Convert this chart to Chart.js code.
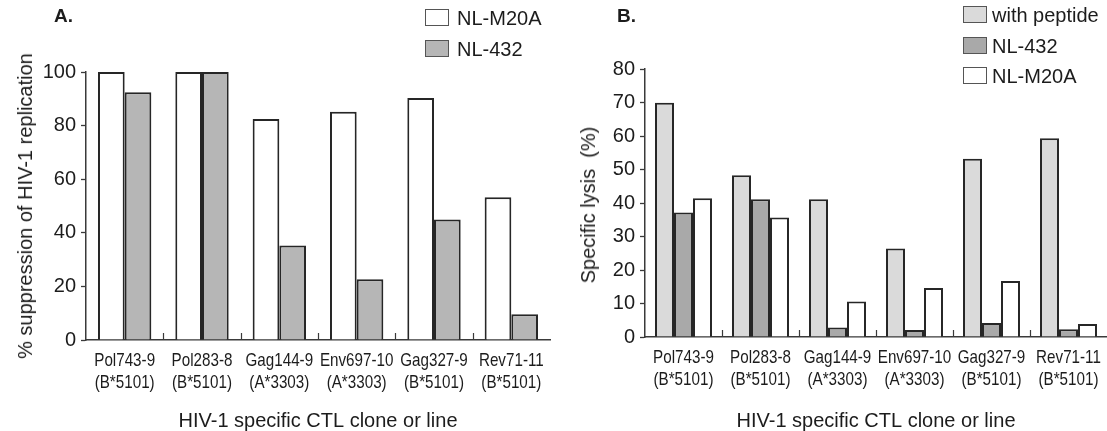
<!DOCTYPE html>
<html>
<head>
<meta charset="utf-8">
<script src="https://cdn.jsdelivr.net/npm/chart.js@4.4.1/dist/chart.umd.min.js"></script>
<style>
html,body{margin:0;padding:0;background:#fff;}
#wrap{position:relative;width:1107px;height:431px;overflow:hidden;font-family:'Liberation Sans',Arial,sans-serif;color:#1c1c1c;}
canvas{position:absolute;top:0;}
.tag{position:absolute;top:6px;font-weight:bold;font-size:19px;line-height:20px;}
.ytitle{position:absolute;font-size:20px;line-height:20px;white-space:nowrap;transform:translate(-50%,-50%) rotate(-90deg);}
.legend{position:absolute;font-size:20px;}
.legend .row{position:absolute;left:0;height:18px;line-height:18px;white-space:nowrap;}
.legend .box{position:absolute;left:0;top:0;width:22px;height:15px;border:1.5px solid #555;}
.legend .txt{position:absolute;top:0;}
</style>
</head>
<body>
<div id="wrap">
  <canvas id="chartA" width="555" height="431" style="left:0;width:555px;height:431px"></canvas>
  <canvas id="chartB" width="552" height="431" style="left:555px;width:552px;height:431px"></canvas>
  <div class="tag" style="left:54px">A.</div>
  <div class="tag" style="left:617px">B.</div>
  <div class="ytitle" style="left:25px;top:206px">% suppression of HIV-1 replication</div>
  <div class="ytitle" style="left:588px;top:205px">Specific lysis&nbsp;&nbsp;(%)</div>
  <div class="legend" id="legA" style="left:425px;top:9px"></div>
  <div class="legend" id="legB" style="left:963px;top:6px"></div>
</div>
<script>
// categories (two-line labels)
const categories = [
  ['Pol743-9', '(B*5101)'],
  ['Pol283-8', '(B*5101)'],
  ['Gag144-9', '(A*3303)'],
  ['Env697-10', '(A*3303)'],
  ['Gag327-9', '(B*5101)'],
  ['Rev71-11', '(B*5101)']
];

// panel A: % suppression of HIV-1 replication
const suppM20A = [100, 100, 82.5, 85.2, 90.3, 53.3];
const supp432 = [92.4, 100, 35.3, 22.7, 45.0, 9.6];

// panel B: specific lysis (%)
const lysisPeptide = [69.9, 48.3, 41.1, 26.4, 53.2, 59.3];
const lysis432 = [37.2, 41.1, 2.8, 2.1, 4.2, 2.3];
const lysisM20A = [41.4, 35.7, 10.6, 14.6, 16.7, 3.9];

const ticksA = [0, 20, 40, 60, 80, 100];
const ticksB = [0, 10, 20, 30, 40, 50, 60, 70, 80];

const ink = '#262626';
const axisCol = '#3a3a3a';
const textCol = '#1c1c1c';

// small inward ticks between the category groups
const boundaryTicks = {
	id: 'boundaryTicks',
	afterDatasetsDraw(chart){
		var x = chart.scales.x, area = chart.chartArea, ctx = chart.ctx, i, px;
		ctx.save();
		ctx.strokeStyle = axisCol;
		ctx.lineWidth = 1.2;
		for(i = 1; i < x.ticks.length; i++){
			px = Math.round((x.getPixelForTick(i-1) + x.getPixelForTick(i))/2) + 0.5;
			ctx.beginPath();
			ctx.moveTo(px, area.bottom);
			ctx.lineTo(px, area.bottom - 7);
			ctx.stroke();
		}
		ctx.restore();
	}
};

// category labels in a condensed face (squeezed horizontally)
const narrowLabels = {
	id: 'narrowLabels',
	afterDraw(chart){
		var x = chart.scales.x, area = chart.chartArea, ctx = chart.ctx;
		ctx.save();
		ctx.fillStyle = textCol;
		ctx.font = "19px 'Liberation Sans', Arial, sans-serif";
		ctx.textAlign = 'center';
		ctx.textBaseline = 'middle';
		chart.data.labels.forEach(function(lines, i){
			var px = x.getPixelForTick(i);
			lines.forEach(function(t, j){
				ctx.save();
				ctx.translate(px, area.bottom + 21 + j*22);
				ctx.scale(0.8, 1);
				ctx.fillText(t, 0, 0);
				ctx.restore();
			});
		});
		ctx.restore();
	}
};

function makeChart(id, datasets, yTicks, opt){
	return new Chart(document.getElementById(id), {
		type: 'bar',
		data: {
			labels: categories,
			datasets: datasets.map(function(d){
				return {
					label: d.label,
					data: d.data,
					backgroundColor: d.fill,
					borderColor: ink,
					borderWidth: 2,
					categoryPercentage: opt.catPct,
					barPercentage: 1
				};
			})
		},
		options: {
			responsive: false,
			animation: false,
			layout: {padding: {left: 0, top: opt.top, right: opt.right, bottom: 0}},
			plugins: {legend: {display: false}, tooltip: {enabled: false}},
			scales: {
				x: {
					grid: {display: false},
					border: {display: true, color: axisCol, width: 1.5},
					ticks: {display: false},
					title: {
						display: true,
						text: 'HIV-1 specific CTL clone or line',
						color: textCol,
						padding: {top: 0, bottom: 0},
						font: {family: "'Liberation Sans',Arial,sans-serif", size: 20, lineHeight: 1}
					},
					afterFit: function(s){ s.height = opt.xh; }
				},
				y: {
					min: 0,
					max: yTicks[yTicks.length-1],
					afterBuildTicks: function(s){ s.ticks = yTicks.map(function(v){ return {value: v}; }); },
					grid: {drawOnChartArea: false, drawTicks: true, tickLength: 5, tickColor: axisCol, tickWidth: 1.3},
					border: {display: true, color: axisCol, width: 1.5},
					ticks: {
						color: textCol,
						padding: 5,
						font: {family: "'Liberation Sans',Arial,sans-serif", size: 20}
					},
					afterFit: function(s){ s.width = opt.yw; }
				}
			}
		},
		plugins: [boundaryTicks, narrowLabels]
	});
}

function makeLegend(id, items, textLeft){
	var el = document.getElementById(id);
	items.forEach(function(it, i){
		var row = document.createElement('div');
		row.className = 'row';
		row.style.top = (i*30.5) + 'px';
		row.innerHTML = '<span class="box" style="background:' + it.fill + '"></span><span class="txt"></span>';
		var txt = row.querySelector('.txt');
		txt.textContent = it.label;
		txt.style.left = textLeft + 'px';
		el.appendChild(row);
	});
}

const setA = [
	{label: 'NL-M20A', data: suppM20A, fill: '#ffffff'},
	{label: 'NL-432', data: supp432, fill: '#b6b6b6'}
];
const setB = [
	{label: 'with peptide', data: lysisPeptide, fill: '#dadada'},
	{label: 'NL-432', data: lysis432, fill: '#a9a9a9'},
	{label: 'NL-M20A', data: lysisM20A, fill: '#ffffff'}
];

makeChart('chartA', setA, ticksA, {top: 72, right: 5, yw: 86, xh: 91, catPct: 0.69});
makeChart('chartB', setB, ticksB, {top: 69, right: 0, yw: 90, xh: 94, catPct: 0.74});
makeLegend('legA', setA, 32);
makeLegend('legB', setB, 29);
</script>
</body>
</html>
